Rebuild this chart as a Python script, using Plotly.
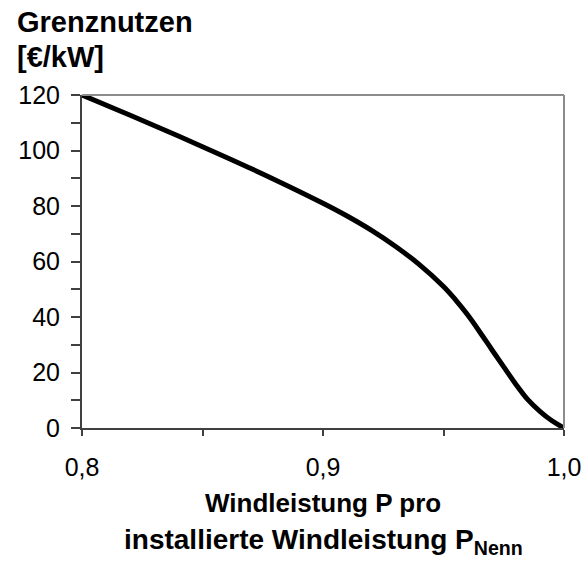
"""
Grenznutzen der Windleistung
"""
import plotly.graph_objects as go

# Data
p_ratio = [0.80, 0.82, 0.84, 0.86, 0.88, 0.90, 0.91, 0.92, 0.93, 0.94, 0.95,
           0.955, 0.96, 0.965, 0.97, 0.975, 0.98, 0.985, 0.99, 0.995, 1.0]
grenznutzen = [120, 112.7, 105.2, 97.5, 89.5, 81, 76.4, 71.3, 65.5, 58.9, 51.0,
               46.2, 40.8, 34.7, 28.3, 22.0, 15.8, 10.2, 6.0, 2.6, 0]

FONT = 'Liberation Sans, Arial, sans-serif'

fig = go.Figure()

fig.add_trace(go.Scatter(
    x=p_ratio,
    y=grenznutzen,
    mode='lines',
    line=dict(color='black', width=5, shape='spline', smoothing=1.0),
    showlegend=False,
    cliponaxis=False,
))

# Top / right frame in light grey
fig.add_shape(type='line', xref='paper', yref='paper', x0=0, x1=1, y0=1, y1=1,
              line=dict(color='#8c8c8c', width=2))
fig.add_shape(type='line', xref='paper', yref='paper', x0=1, x1=1, y0=0, y1=1,
              line=dict(color='#8c8c8c', width=2))

# y axis title (two lines, top left)
fig.add_annotation(text='<b>Grenznutzen</b>', xref='paper', yref='paper',
                   x=-0.139, y=1.0, yshift=73, xanchor='left', yanchor='middle',
                   showarrow=False, font=dict(family=FONT, size=29, color='black'))
fig.add_annotation(text='<b>[€/kW]</b>', xref='paper', yref='paper',
                   x=-0.139, y=1.0, yshift=38, xanchor='left', yanchor='middle',
                   showarrow=False, font=dict(family=FONT, size=29, color='black'))

# x axis title (two lines, below the tick labels)
fig.add_annotation(text='<b>Windleistung P pro</b>', xref='paper', yref='paper',
                   x=0.5, y=0, yshift=-75, xanchor='center', yanchor='middle',
                   showarrow=False, font=dict(family=FONT, size=26, color='black'))
fig.add_annotation(text='<b>installierte Windleistung P<sub>Nenn</sub></b>',
                   xref='paper', yref='paper',
                   x=0.5, y=0, yshift=-113, xanchor='center', yanchor='middle',
                   showarrow=False, font=dict(family=FONT, size=28, color='black'))

fig.update_layout(
    width=588,
    height=572,
    margin=dict(l=82, r=24, t=95, b=144, autoexpand=False),
    paper_bgcolor='white',
    plot_bgcolor='white',
    separators=',.',
    font=dict(family=FONT, size=25, color='black'),
    xaxis=dict(
        range=[0.8, 1.0],
        tickmode='linear', tick0=0.8, dtick=0.1, tickformat='.1f',
        ticks='outside', ticklen=6, tickwidth=1.5, tickcolor='#404040',
        minor=dict(dtick=0.05, ticks='outside', ticklen=6, tickwidth=1.5,
                   tickcolor='#404040'),
        showline=True, linecolor='#404040', linewidth=2,
        showgrid=False, zeroline=False,
        ticklabelstandoff=10,
        automargin=False,
    ),
    yaxis=dict(
        range=[0, 120],
        tickmode='linear', tick0=0, dtick=20,
        ticks='outside', ticklen=9, tickwidth=1.5, tickcolor='#404040',
        minor=dict(dtick=10, ticks='outside', ticklen=9, tickwidth=1.5,
                   tickcolor='#404040'),
        showline=True, linecolor='#404040', linewidth=2,
        showgrid=False, zeroline=False,
        ticklabelstandoff=6,
        automargin=False,
    ),
)

# remove the default page margin so the figure sits at the window's corner
fig.write_html("out.html", config={'displayModeBar': False},
               post_script="document.body.style.margin='0px';")
